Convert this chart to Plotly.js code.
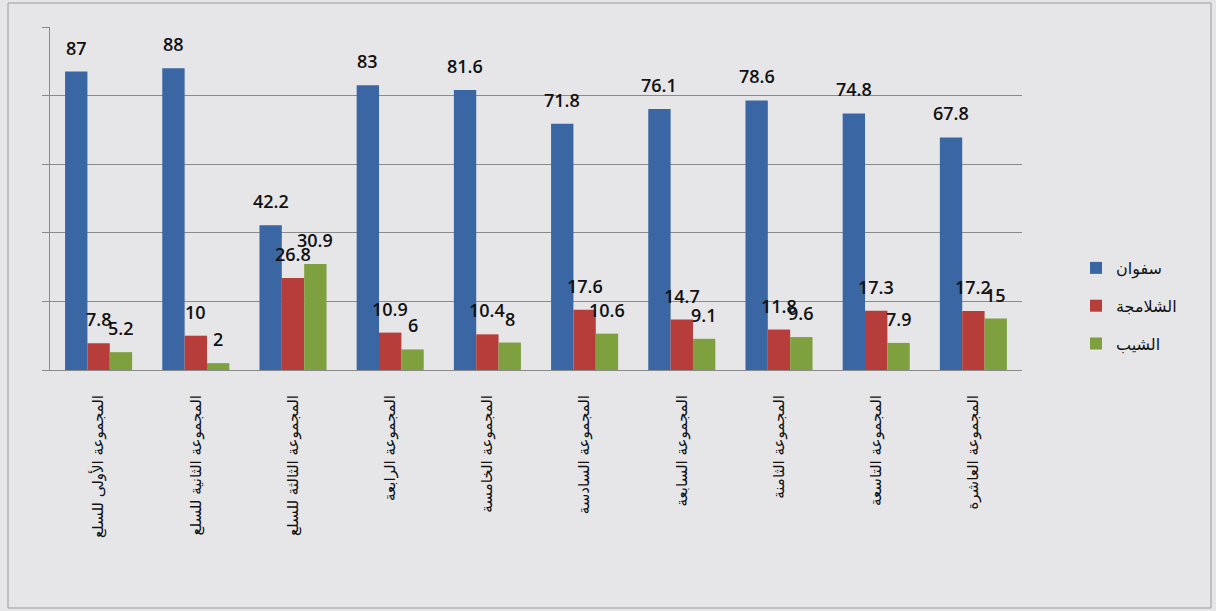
<!DOCTYPE html>
<html>
<head>
<meta charset="utf-8">
<script src="https://cdn.plot.ly/plotly-3.0.1.min.js"></script>
<style>
html,body{margin:0;padding:0;background:#e6e6e8;}
#chart{width:1216px;height:611px;}
</style>
</head>
<body>
<div id="chart"></div>
<script>
var categories = [
  "المجموعة الأولى للسلع",
  "المجموعة الثانية للسلع",
  "المجموعة الثالثة للسلع",
  "المجموعة الرابعة",
  "المجموعة الخامسة",
  "المجموعة السادسة",
  "المجموعة السابعة",
  "المجموعة الثامنة",
  "المجموعة التاسعة",
  "المجموعة العاشرة"
];
var seriesNames = ["سفوان", "الشلامجة", "الشيب"];
var safwan     = [87, 88, 42.2, 83, 81.6, 71.8, 76.1, 78.6, 74.8, 67.8];
var shalamcheh = [7.8, 10, 26.8, 10.9, 10.4, 17.6, 14.7, 11.8, 17.3, 17.2];
var shib       = [5.2, 2, 30.9, 6, 8, 10.6, 9.1, 9.6, 7.9, 15];
var colors = ["#3a66a3", "#b63d3a", "#7fa03f"];

var L = 50, R = 1022, T = 27, B = 370;
var W = R - L, H = B - T;
var BARGAP = 0.31;
function px(x){ return (x - L) / W; }
function py(y){ return (B - y) / H; }

var allSeries = [safwan, shalamcheh, shib];
var traces = allSeries.map(function(vals, i){
  return {
    type: "bar",
    name: seriesNames[i],
    legendgroup: "g" + i,
    x: categories,
    y: vals,
    marker: {color: colors[i]},
    hoverinfo: "x+y+name"
  };
});

// value labels placed above each bar, in data coordinates
var barPx = (W / categories.length) * (1 - BARGAP) / allSeries.length;
var annotations = [];
allSeries.forEach(function(vals, i){
  vals.forEach(function(v, j){
    annotations.push({
      x: categories[j], y: v, xref: "x", yref: "y",
      text: String(v), showarrow: false,
      xanchor: "center", yanchor: "bottom",
      xshift: (i - 1) * barPx, yshift: 10,
      font: {family: "Open Sans", size: 18, weight: 600, color: "#111"}
    });
  });
});

var layout = {
  width: 1216, height: 611,
  margin: {l: L, r: 1216 - R, t: T, b: 611 - B},
  paper_bgcolor: "#e6e6e8",
  plot_bgcolor: "rgba(0,0,0,0)",
  barmode: "group",
  bargap: BARGAP,
  bargroupgap: 0,
  showlegend: true,
  legend: {
    x: px(1076), y: py(251), xanchor: "left", yanchor: "top",
    font: {family: "DejaVu Sans", size: 16, color: "#111"},
    bgcolor: "rgba(0,0,0,0)",
    traceorder: "grouped",
    tracegroupgap: 14,
    itemwidth: 30
  },
  xaxis: {
    type: "category",
    showline: true, linecolor: "#8a8a8a", linewidth: 1,
    ticks: "", tickangle: -90,
    ticklabelstandoff: 18,
    tickfont: {family: "DejaVu Sans", size: 15, color: "#111"},
    showgrid: false
  },
  yaxis: {
    range: [0, 100], dtick: 20,
    showgrid: true, gridcolor: "#8a8a8a", gridwidth: 1,
    showline: true, linecolor: "#8a8a8a", linewidth: 1,
    ticks: "outside", ticklen: 7, tickcolor: "#8a8a8a",
    showticklabels: false, zeroline: false
  },
  annotations: annotations,
  shapes: [{
    type: "rect", xref: "paper", yref: "paper",
    x0: px(8), x1: px(1211), y0: py(608), y1: py(3),
    line: {color: "#9a9a9a", width: 1}, layer: "below"
  }]
};

Plotly.newPlot("chart", traces, layout, {displayModeBar: false, staticPlot: true});
</script>
</body>
</html>
